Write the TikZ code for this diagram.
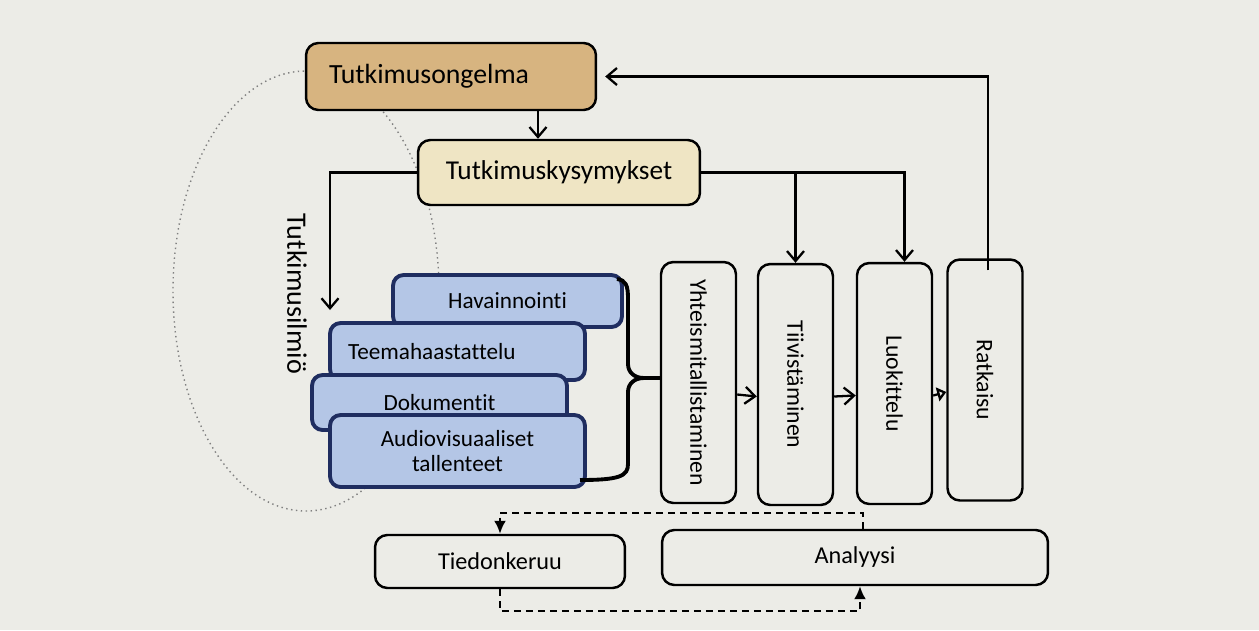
\documentclass[tikz,border=0pt]{standalone}
\usepackage{fontspec}
\usepackage{graphicx}
\setmainfont{Carlito}[Ligatures=CommonOff]
\usetikzlibrary{arrows.meta,calc}

\definecolor{sivu}{RGB}{236,236,231}
\definecolor{ruskea}{RGB}{215,180,128}
\definecolor{beige}{RGB}{239,229,196}
\definecolor{sininen}{RGB}{180,198,230}
\definecolor{tummansininen}{RGB}{31,45,96}

\tikzset{
  laatikko/.style={draw, line width=1.4pt, rounded corners=7pt, minimum height=11mm, font=\fontsize{13.8}{15}\selectfont},
  pino/.style={draw=tummansininen, fill=sininen, line width=2.2pt, rounded corners=6pt, minimum width=51mm, font=\fontsize{13.2}{14.5}\selectfont, align=center},
  pysty/.style={laatikko, minimum width=15mm, minimum height=48.2mm, font=\fontsize{13.5}{16}\selectfont},
  nuoli/.style={->, line width=1.3pt},
  katko/.style={-{Latex[length=2.6mm,width=2.4mm]}, line width=1.3pt, dash pattern=on 1.4mm off 1mm},
}

\begin{document}
\begin{tikzpicture}[x=0.02cm, y=-0.02cm, >={Straight Barb[length=2mm,width=3.4mm]}]
    \fill[sivu] (0,0) rectangle (1259,630);
    \useasboundingbox (0,0) rectangle (1259,630);

    % tutkimusilmio
    \draw[gray, dotted, line width=0.8pt] (306,291) ellipse [x radius=133, y radius=220];

    \node[laatikko, fill=ruskea, minimum width=58mm, minimum height=13.4mm, inner xsep=4.6mm, text width=48.8mm, align=left, font=\fontsize{15.8}{18}\selectfont] (ongelma) at (451,76.5) {Tutkimusongelma};
    \node[laatikko, fill=beige, minimum width=56.4mm, minimum height=13mm, font=\fontsize{15.5}{18}\selectfont] (kysym) at (559,172.5) {Tutkimuskysymykset};

    % aineistot
    \node[pino, minimum width=45.8mm, minimum height=10.4mm] (hav) at (507.5,301) {Havainnointi};
    \node[pino, minimum height=11.4mm, inner xsep=3.6mm, text width=43.8mm, align=left] (teema) at (457.5,351.5) {Teemahaastattelu};
    \node[pino, minimum height=11mm] (doku) at (439.5,402.5) {Dokumentit};
    \node[pino, minimum height=14.4mm] (audio) at (457.5,451) {Audiovisuaaliset\\tallenteet};

    % analyysin vaiheet
    \node[pysty] (yht) at (698.5,382.5) {\rotatebox{-90}{Yhteismitallistaminen}};
    \node[pysty] (tiiv) at (795.5,384.5) {\rotatebox{-90}{Tiivistäminen}};
    \node[pysty] (luok) at (894.5,383.5) {\rotatebox{-90}{Luokittelu}};
    \node[pysty] (ratk) at (985,380) {\rotatebox{-90}{Ratkaisu}};

    \node[laatikko, minimum width=50mm, minimum height=10.6mm] (tied) at (500,561.5) {Tiedonkeruu};
    \node[laatikko, minimum width=77.2mm] (anal) at (855,557.5) {Analyysi};

    \node[rotate=-90, font=\fontsize{16}{18}\selectfont] (ilmioteksti) at (297,294) {Tutkimusilmiö};

    % sulku
    \coordinate (kaari) at (644,378);
    \draw[line width=2.2pt] (617,279) .. controls (626,280) and (628,286) .. (628,298) -- (628,364)
        .. controls (628,372) and (634,378) .. (kaari) -- (kaari -| yht.west);
    \draw[line width=2.2pt] (kaari) .. controls (634,378) and (628,384) .. (628,392) -- (628,464)
        .. controls (628,476) and (620,480) .. (580,480);

    % nuolet
    \coordinate (ilmio) at (330,310);
    \draw[nuoli] ($(ongelma.south)+(87,0)$) -- ($(kysym.north)+(-21,0)$);
    \draw[nuoli] (kysym.west) -| (ilmio);
    \draw[nuoli] (kysym.east) -| ($(luok.north)+(10,0)$);
    \draw[nuoli] (kysym.east -| tiiv.north) -- (tiiv.north);
    \draw[nuoli] ($(ratk.north)+(3,12)$) |- ([xshift=1.6mm]ongelma.east);
    \foreach \a/\b in {yht/tiiv, tiiv/luok}
        \draw[nuoli] ([yshift=-2.4mm]\a.east) -- ([yshift=-2.4mm]\b.west);
    \draw[line width=1.3pt, -{Triangle[open,length=1.8mm,width=2.8mm]}] ([yshift=-2.4mm]luok.east) -- ([yshift=-2.4mm]ratk.west);

    \draw[katko] ($(anal.north)+(8,0)$) |- ($(tied.north)+(0,-21)$) -- (tied.north);
    \draw[katko] (tied.south) -- ++(0,22) -| ($(anal.south)+(5,0)$);
\end{tikzpicture}
\end{document}
